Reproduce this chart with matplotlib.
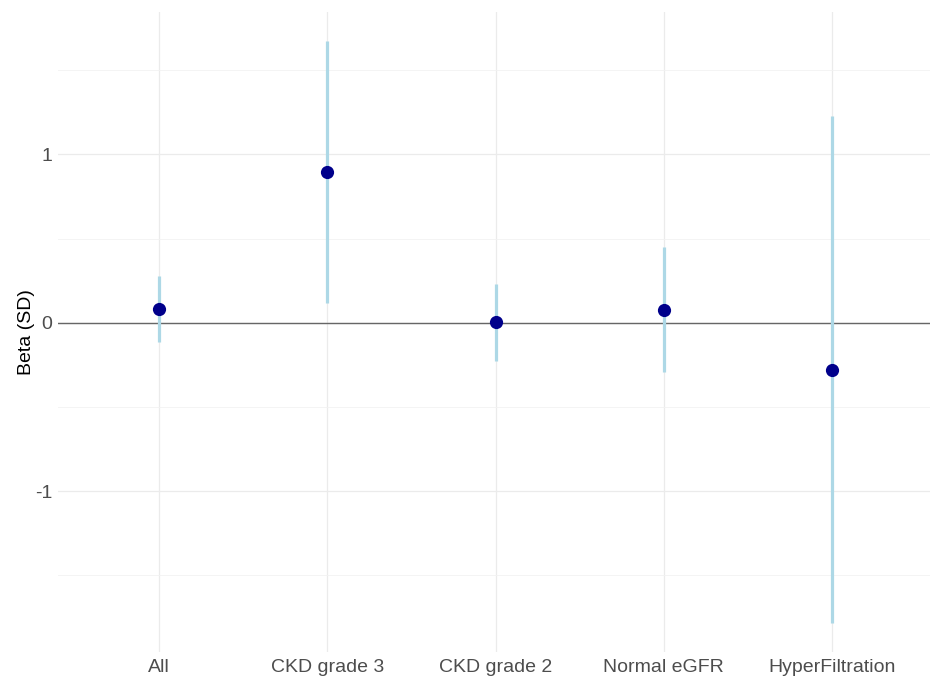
import matplotlib
matplotlib.use("Agg")
import matplotlib.pyplot as plt
import numpy as np

categories = ["All", "CKD grade 3", "CKD grade 2", "Normal eGFR", "HyperFiltration"]
beta = [0.08, 0.897, 0.006, 0.078, -0.281]
ci_low = [-0.115, 0.119, -0.227, -0.293, -1.783]
ci_high = [0.279, 1.676, 0.233, 0.448, 1.23]

plt.rcParams['font.family'] = ['Liberation Sans', 'DejaVu Sans']

fig = plt.figure(figsize=(9.3, 6.78), dpi=100)
ax = fig.add_axes([58/930, 26/678, 875/930, 640.5/678])

x = np.arange(1, len(categories) + 1)
ax.vlines(x, ci_low, ci_high, color="#ADD8E6", linewidth=2.3, zorder=3)
ax.plot(x, beta, 'o', color="#00008B", markersize=9.5, zorder=4, markeredgewidth=0)
ax.axhline(0, color="#666666", linewidth=1.0, zorder=2)

lo, hi = min(ci_low), max(ci_high)
pad = 0.05 * (hi - lo)
ax.set_ylim(lo - pad, hi + pad)
ax.set_xlim(0.4, len(categories) + 0.6)

ax.set_yticks([-1, 0, 1])
ax.set_yticklabels(["-1", "0", "1"])
ax.set_yticks([-1.5, -0.5, 0.5, 1.5], minor=True)
ax.set_xticks(x)
ax.set_xticklabels(categories)

ax.grid(True, which='major', color="#EBEBEB", linewidth=0.9)
ax.grid(True, which='minor', axis='y', color="#F2F2F2", linewidth=0.6)
ax.set_axisbelow(True)
for s in ax.spines.values():
    s.set_visible(False)
ax.tick_params(axis='both', which='both', length=0, labelsize=14, labelcolor="#4D4D4D")
ax.tick_params(axis='y', pad=4)
ax.tick_params(axis='x', pad=5)
ax.set_ylabel("Beta (SD)", fontsize=14, color="black", labelpad=0)

fig.savefig("out.png", dpi=100)
